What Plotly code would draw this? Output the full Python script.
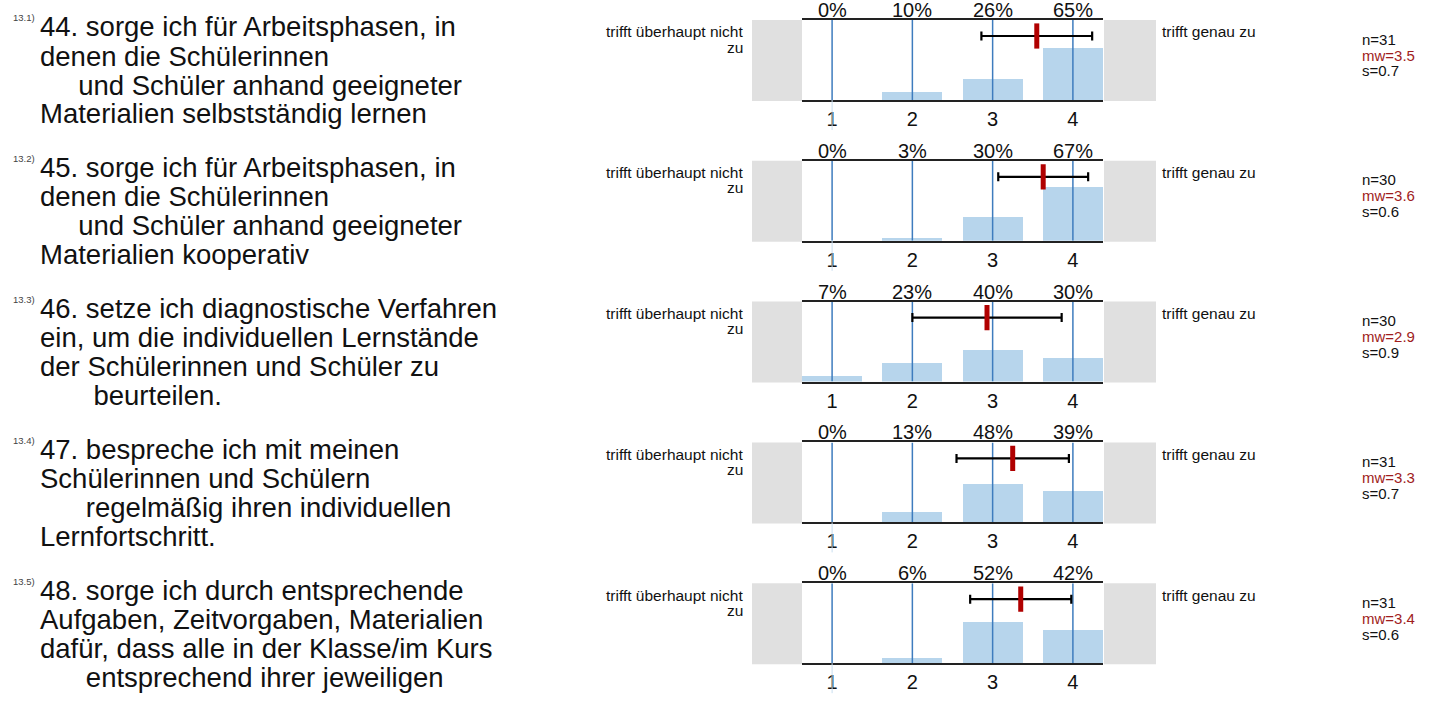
import plotly.graph_objects as go

# ---------------- data ----------------
scale_values = [1, 2, 3, 4]
scale_labels = ["1", "2", "3", "4"]
left_label = ["trifft überhaupt nicht", "zu"]
right_label = "trifft genau zu"

item_ids = ["13.1)", "13.2)", "13.3)", "13.4)", "13.5)"]
questions = [
    ["44. sorge ich für Arbeitsphasen, in", "denen die Schülerinnen",
     "     und Schüler anhand geeigneter", "Materialien selbstständig lernen"],
    ["45. sorge ich für Arbeitsphasen, in", "denen die Schülerinnen",
     "     und Schüler anhand geeigneter", "Materialien kooperativ"],
    ["46. setze ich diagnostische Verfahren", "ein, um die individuellen Lernstände",
     "der Schülerinnen und Schüler zu", "       beurteilen."],
    ["47. bespreche ich mit meinen", "Schülerinnen und Schülern",
     "      regelmäßig ihren individuellen", "Lernfortschritt."],
    ["48. sorge ich durch entsprechende", "Aufgaben, Zeitvorgaben, Materialien",
     "dafür, dass alle in der Klasse/im Kurs", "      entsprechend ihrer jeweiligen"],
]
percents = [
    [0, 10, 26, 65],
    [0, 3, 30, 67],
    [7, 23, 40, 30],
    [0, 13, 48, 39],
    [0, 6, 52, 42],
]
n_values = [31, 30, 30, 31, 31]
means = [3.55, 3.63, 2.93, 3.25, 3.35]
sds = [0.69, 0.56, 0.93, 0.70, 0.63]
mw_text = ["3.5", "3.6", "2.9", "3.3", "3.4"]
s_text = ["0.7", "0.6", "0.9", "0.7", "0.6"]

# ---------------- layout helpers ----------------
W, H = 1434, 704
FONT = "Liberation Sans, Arial, sans-serif"
BAR_COLOR = "rgb(183,213,236)"
GRID_COLOR = "rgb(62,124,190)"
GRAY = "rgb(224,224,224)"
RED = "rgb(176,0,0)"
DARKRED = "rgb(160,28,28)"

PLOT_X0, PLOT_X1 = 802, 1103
PANEL_TOP0, PANEL_STEP, PANEL_H = 20, 140.8, 80


def px(x):
    return x / W


def py(y):
    return 1 - y / H


fig = go.Figure()
shapes = []
annotations = []

for i in range(5):
    sfx = "" if i == 0 else str(i + 1)
    xa, ya = "x" + sfx, "y" + sfx
    top = PANEL_TOP0 + PANEL_STEP * i
    bot = top + PANEL_H

    fig.update_layout(**{
        "xaxis" + sfx: dict(
            domain=[px(PLOT_X0), px(PLOT_X1)], anchor=ya,
            range=[0.625, 4.375], showgrid=False, zeroline=False,
            showline=True, mirror=True, linecolor="#222", linewidth=2,
            tickvals=scale_values, ticktext=scale_labels, ticks="",
            tickfont=dict(family=FONT, size=20, color="#111"),
            fixedrange=True,
        ),
        "yaxis" + sfx: dict(
            domain=[py(bot), py(top)], anchor=xa, range=[0, 1],
            showgrid=False, zeroline=False, showline=False,
            showticklabels=False, ticks="", fixedrange=True,
        ),
    })

    # bars
    fig.add_trace(go.Bar(
        x=scale_values, y=[p / 100 for p in percents[i]], width=0.75,
        marker=dict(color=BAR_COLOR, line=dict(width=0)),
        xaxis=xa, yaxis=ya, showlegend=False, hoverinfo="skip",
    ))
    # vertical category lines
    vx, vy = [], []
    for v in scale_values:
        vx += [v, v, None]
        vy += [0, 1, None]
    fig.add_trace(go.Scatter(
        x=vx, y=vy, mode="lines", line=dict(color=GRID_COLOR, width=1.5),
        xaxis=xa, yaxis=ya, showlegend=False, hoverinfo="skip",
    ))
    # standard deviation bar
    fig.add_trace(go.Scatter(
        x=[means[i]], y=[0.8], mode="markers",
        marker=dict(size=1, color="black"),
        error_x=dict(type="data", array=[sds[i]], symmetric=True,
                     color="black", thickness=2.2, width=4.5),
        xaxis=xa, yaxis=ya, showlegend=False, hoverinfo="skip",
    ))
    # mean marker
    fig.add_trace(go.Scatter(
        x=[means[i]], y=[0.8], mode="markers",
        marker=dict(symbol="line-ns", size=18,
                    line=dict(color=RED, width=5)),
        xaxis=xa, yaxis=ya, showlegend=False, hoverinfo="skip",
    ))

    # gray side boxes
    shapes.append(dict(type="rect", xref="paper", yref="paper",
                       x0=px(752), x1=px(802), y0=py(bot + 1), y1=py(top),
                       fillcolor=GRAY, line=dict(width=0), layer="below"))
    shapes.append(dict(type="rect", xref="paper", yref="paper",
                       x0=px(1104), x1=px(1156), y0=py(bot + 1), y1=py(top),
                       fillcolor=GRAY, line=dict(width=0), layer="below"))

    # faint line below empty first category
    if percents[i][0] == 0:
        shapes.append(dict(type="line", xref=xa, yref="paper",
                           x0=scale_values[0], x1=scale_values[0],
                           y0=py(bot), y1=py(bot + 30),
                           line=dict(color="rgb(200,222,240)", width=1)))

    # percent labels
    for v, p in zip(scale_values, percents[i]):
        annotations.append(dict(
            x=v, y=py(top - 10), xref=xa, yref="paper", text=f"{p}%",
            showarrow=False, xanchor="center", yanchor="middle",
            font=dict(family=FONT, size=20, color="#111")))

    # scale end labels
    annotations.append(dict(
        x=px(745), y=py(top + 12), xref="paper", yref="paper",
        text=left_label[0], showarrow=False, xanchor="right", yanchor="middle",
        font=dict(family=FONT, size=15.5, color="#111")))
    annotations.append(dict(
        x=px(745), y=py(top + 27), xref="paper", yref="paper",
        text=left_label[1], showarrow=False, xanchor="right", yanchor="middle",
        font=dict(family=FONT, size=15.5, color="#111")))
    annotations.append(dict(
        x=px(1160), y=py(top + 12), xref="paper", yref="paper",
        text=right_label, showarrow=False, xanchor="left", yanchor="middle",
        font=dict(family=FONT, size=15.5, color="#111")))

    # stats
    stats = [(f"n={n_values[i]}", "#111"), (f"mw={mw_text[i]}", DARKRED),
             (f"s={s_text[i]}", "#111")]
    for k, (t, c) in enumerate(stats):
        annotations.append(dict(
            x=px(1360), y=py(top + 19 + 16 * k), xref="paper", yref="paper",
            text=t, showarrow=False, xanchor="left", yanchor="middle",
            font=dict(family=FONT, size=15, color=c)))

    # item id
    annotations.append(dict(
        x=px(37), y=py(top - 2), xref="paper", yref="paper",
        text=item_ids[i], showarrow=False, xanchor="right", yanchor="middle",
        font=dict(family=FONT, size=9.5, color="#444")))

    # question text lines
    for k, line in enumerate(questions[i]):
        stripped = line.lstrip(" ")
        indent = "\u00a0" * (len(line) - len(stripped))
        annotations.append(dict(
            x=px(38), y=py(top + 7 + 29 * k), xref="paper", yref="paper",
            text=indent + stripped, showarrow=False, xanchor="left",
            yanchor="middle",
            font=dict(family=FONT, size=27.5, color="#111")))

fig.update_layout(
    width=W, height=H,
    margin=dict(l=0, r=0, t=0, b=0),
    paper_bgcolor="white", plot_bgcolor="white",
    showlegend=False, bargap=0,
    shapes=shapes, annotations=annotations,
)

fig.write_html(
    "out.html",
    config={"displayModeBar": False, "staticPlot": True},
    post_script="document.body.style.margin='0px';"
                "document.body.style.overflow='hidden';",
)
